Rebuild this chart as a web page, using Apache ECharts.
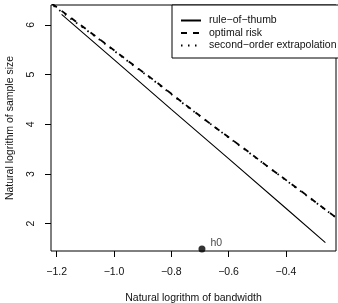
<!DOCTYPE html>
<html><head><meta charset="utf-8">
<script src="https://cdn.jsdelivr.net/npm/echarts@6/dist/echarts.min.js"></script>
<style>html,body{margin:0;padding:0;background:#fff}#c{width:338px;height:303px}</style>
</head><body><div id="c"></div>
<script>
// log bandwidth / log sample size
var ruleX = [-1.183, -1.0, -0.8, -0.6, -0.4, -0.262];
var ruleY = [6.21, 5.30, 4.30, 3.31, 2.31, 1.62];
var optX = [-1.25, -1.15, -1.05, -0.95, -0.85, -0.75, -0.65, -0.55, -0.45, -0.35, -0.25, -0.20];
var optY = [6.57, 6.14, 5.71, 5.27, 4.84, 4.39, 3.95, 3.53, 3.09, 2.67, 2.23, 2.02];
var secX = [-1.25, -1.15, -1.05, -0.95, -0.85, -0.75, -0.65, -0.55, -0.45, -0.35, -0.25, -0.20];
var secY = [6.55, 6.12, 5.70, 5.26, 4.83, 4.38, 3.95, 3.52, 3.09, 2.66, 2.23, 2.01];
var h0 = [-0.693, 1.49];
var xTicks = [-1.2, -1.0, -0.8, -0.6, -0.4];
var yTicks = [2, 3, 4, 5, 6];
var seriesNames = ['rule\u2212of\u2212thumb', 'optimal risk', 'second\u2212order extrapolation'];

function zip(a, b) { return a.map(function (v, i) { return [v, b[i]]; }); }
var FONT = 'Liberation Sans';
var chart = echarts.init(document.getElementById('c'), null, {renderer: 'canvas'});
chart.setOption({
  animation: false,
  backgroundColor: '#fff',
  grid: {left: 51, top: 5, width: 285, height: 246, show: true, borderColor: '#000', borderWidth: 1,
    backgroundColor: 'transparent', containLabel: false, outerBoundsMode: 'none'},
  legend: {
    show: true,
    orient: 'vertical', left: 172, top: 5,
    padding: [10, 3, 7, 8], itemGap: 1.5, itemWidth: 20, itemHeight: 11,
    borderColor: '#000', borderWidth: 1, backgroundColor: '#fff',
    itemStyle: {opacity: 0},
    textStyle: {fontFamily: FONT, fontSize: 10.5, color: '#111', padding: [0, 0, 0, 3]},
    data: seriesNames,
    selectedMode: false
  },
  xAxis: {
    type: 'value', min: -1.22, max: -0.225,
    splitLine: {show: false},
    axisLine: {show: false},
    axisTick: {show: true, length: 6, lineStyle: {color: '#000'}, customValues: xTicks},
    axisLabel: {customValues: xTicks, fontFamily: FONT, fontSize: 10.5, color: '#111', margin: 16,
      formatter: function (v) { return (v < 0 ? '\u2212' : '') + Math.abs(v).toFixed(1); }},
    name: 'Natural logrithm of bandwidth', nameLocation: 'middle', nameGap: 42,
    nameTextStyle: {fontFamily: FONT, fontSize: 10.5, color: '#111'}
  },
  yAxis: {
    type: 'value', min: 1.45, max: 6.40,
    splitLine: {show: false},
    axisLine: {show: false},
    axisTick: {show: true, length: 6, lineStyle: {color: '#000'}, customValues: yTicks},
    axisLabel: {customValues: yTicks, rotate: 90, fontFamily: FONT, fontSize: 10.5, color: '#111', margin: 14},
    name: 'Natural logrithm of sample size', nameLocation: 'middle', nameGap: 35,
    nameTextStyle: {fontFamily: FONT, fontSize: 10.5, color: '#111'}
  },
  series: [
    {name: seriesNames[0], type: 'line', data: zip(ruleX, ruleY), symbol: 'none', clip: true,
      lineStyle: {color: '#000', width: 1.1, type: 'solid'}, itemStyle: {color: '#000'}},
    {name: seriesNames[1], type: 'line', data: zip(optX, optY), symbol: 'none', clip: true,
      lineStyle: {color: '#000', width: 1.8, type: [6, 6]}, itemStyle: {color: '#000'}},
    {name: seriesNames[2], type: 'line', data: zip(secX, secY), symbol: 'none', clip: true,
      lineStyle: {color: '#000', width: 1.8, type: [1.5, 5.5]}, itemStyle: {color: '#000'}},
    {name: 'h0', type: 'scatter', data: [h0], symbol: 'circle', symbolSize: 7, clip: false,
      itemStyle: {color: '#000'},
      label: {show: true, formatter: 'h0', position: 'right', offset: [0, -6], fontFamily: FONT, fontSize: 10.5, color: '#111'}}
  ]
});
</script></body></html>
